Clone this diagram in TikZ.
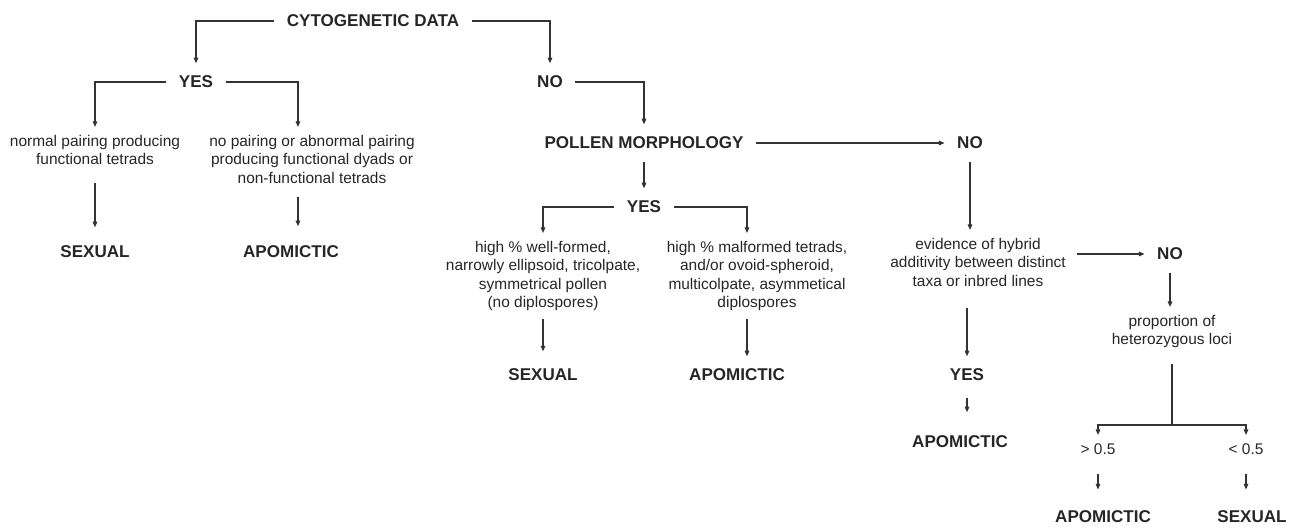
\documentclass[tikz,border=0pt]{standalone}
\usepackage{fontspec}
\setmainfont{Liberation Sans}
\usepackage{xcolor}
\usetikzlibrary{arrows.meta}

\begin{document}
\begin{tikzpicture}[x=0.02cm, y=-0.02cm,
	lab/.style={font=\fontsize{9.7}{11}\selectfont\bfseries, text=black!85, inner sep=7pt},
	txt/.style={font=\fontsize{8.8}{10.4}\selectfont, text=black!85, align=center, inner xsep=6pt, inner ysep=4.5pt},
	ln/.style={draw=black!80, line width=0.7pt},
	arr/.style={ln, -{Triangle[length=3.2pt,width=2.6pt]}}]
	% Parameters
	\def\abnshift{-8pt}
	\def\malfshift{-5.7pt}
	
	\useasboundingbox (0,0) rectangle (1297,527);
	
	%cytogenetic branch
	\node[lab] (cyto) at (373,21) {CYTOGENETIC DATA};
	\node[lab] (yesa) at (196,82) {YES};
	\node[lab] (noa) at (550,82) {NO};
	\node[txt, anchor=north] (pair) at (95,127) {normal pairing producing\\functional tetrads};
	\node[txt, anchor=north] (abn) at (312,127) {no pairing or abnormal pairing\\producing functional dyads or\\non-functional tetrads};
	\node[lab] (sexa) at (95,252) {SEXUAL};
	\node[lab] (apoa) at (291,252) {APOMICTIC};
	
	%pollen branch
	\node[lab] (pollen) at (644,143) {POLLEN MORPHOLOGY};
	\node[lab] (yesb) at (644,207) {YES};
	\node[txt, anchor=north] (wellf) at (543,233) {high \% well-formed,\\narrowly ellipsoid, tricolpate,\\symmetrical pollen\\(no diplospores)};
	\node[txt, anchor=north] (malf) at (757,233) {high \% malformed tetrads,\\and/or ovoid-spheroid,\\multicolpate, asymmetical\\diplospores};
	\node[lab] (sexb) at (543,375) {SEXUAL};
	\node[lab] (apob) at (737,375) {APOMICTIC};
	
	%hybrid branch
	\node[lab] (nob) at (970,143) {NO};
	\node[txt, anchor=north] (evid) at (978,230) {evidence of hybrid\\additivity between distinct\\taxa or inbred lines};
	\node[lab] (yesc) at (967,375) {YES};
	\node[lab] (apoc) at (960,442) {APOMICTIC};
	\node[lab] (noc) at (1170,254) {NO};
	\node[txt, anchor=north] (prop) at (1172,307) {proportion of\\heterozygous loci};
	\coordinate (split) at (1172,425);
	\node[txt, anchor=north] (gt) at (1098,435) {> 0.5};
	\node[txt, anchor=north] (lt) at (1246,435) {< 0.5};
	\node[lab] (apod) at (1103,517) {APOMICTIC};
	\node[lab] (sexc) at (1252,517) {SEXUAL};
	
	%arrows top
	\draw[arr] (cyto.west) -| (yesa.north);
	\draw[arr] (cyto.east) -| (noa.north);
	\draw[arr] (yesa.west) -| (pair.north);
	\draw[arr] (yesa.east) -| ([xshift=\abnshift]abn.north);
	\draw[arr, shorten <=5.7pt, shorten >=3.4pt] (pair.south) -- (sexa.north);
	\draw[arr, shorten <=3.4pt, shorten >=4pt] ([xshift=\abnshift]abn.south) -- ([xshift=\abnshift]abn.south |- apoa.north);
	
	%arrows pollen
	\draw[arr] (noa.east) -| (pollen.north);
	\draw[arr] (pollen.east) -- (nob.west);
	\draw[arr] (pollen.south) -- (yesb.north);
	\draw[arr] (yesb.west) -| (wellf.north);
	\draw[arr] (yesb.east) -| ([xshift=\malfshift]malf.north);
	\draw[arr, shorten >=2.8pt] (wellf.south) -- (wellf.south |- sexb.north);
	\draw[arr] ([xshift=\malfshift]malf.south) -- ([xshift=\malfshift]malf.south |- apob.north);
	
	%arrows hybrid
	\draw[arr] (nob.south) -- (nob.south |- evid.north);
	\draw[arr] (evid.east |- noc.west) -- (noc.west);
	\draw[arr, shorten <=8pt] (yesc.north |- evid.south) -- (yesc.north);
	\draw[arr, shorten <=2.3pt, shorten >=6.3pt] (yesc.south) -- (yesc.south |- apoc.north);
	\draw[arr] (noc.south) -- (noc.south |- prop.north);
	\draw[ln, shorten <=4.5pt] (prop.south) -- (split);
	\draw[arr] (split) -| (gt.north);
	\draw[arr] (split) -| (lt.north);
	\draw[arr, shorten <=6.3pt, shorten >=5pt] (gt.south) -- (gt.south |- apod.north);
	\draw[arr, shorten <=6.3pt, shorten >=5pt] (lt.south) -- (lt.south |- sexc.north);
	
\end{tikzpicture}
\end{document}
